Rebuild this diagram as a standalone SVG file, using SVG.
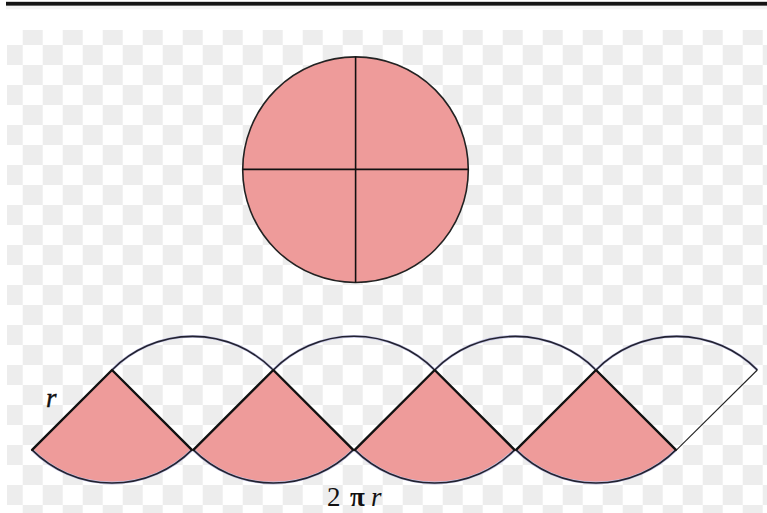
<svg xmlns="http://www.w3.org/2000/svg" width="767" height="513" viewBox="0 0 767 513">
  <defs>
    <pattern id="checker" patternUnits="userSpaceOnUse" x="2.7" y="25" width="40" height="40">
      <rect x="0" y="0" width="40" height="40" fill="#ffffff"/>
      <rect x="20" y="0" width="20" height="20" fill="#ededed"/>
      <rect x="0" y="20" width="20" height="20" fill="#ededed"/>
    </pattern>
  </defs>
  <style>
    .fill { fill: #ee9b9a; }
    .side { fill: none; stroke: #111; stroke-width: 2.4; stroke-linejoin: round; stroke-linecap: round; }
    .arc { fill: none; stroke: #222230; stroke-width: 1.6; }
    .halo { fill: none; stroke: #c4c4e4; stroke-width: 2.8; }
    .thin { fill: none; stroke: #222; stroke-width: 1.1; }
    .lbl { font-family: "Liberation Serif", "Times New Roman", serif; fill: #111; }
  </style>

  <!-- background -->
  <rect x="0" y="0" width="767" height="513" fill="#ffffff"/>
  <rect x="6" y="1.8" width="761" height="4" fill="#141414"/>
  <rect x="6" y="5.8" width="761" height="3.5" fill="#f4f4f4"/>
  <rect x="7" y="30" width="760" height="483" fill="url(#checker)"/>

  <!-- circle divided into quarters -->
  <g id="circle">
    <circle cx="355.5" cy="169.7" r="112.8" class="fill" stroke="#222" stroke-width="1.6"/>
    <line x1="355.6" y1="56.9" x2="355.6" y2="282.5" stroke="#111" stroke-width="1.6"/>
    <line x1="242.7" y1="169.4" x2="468.3" y2="169.4" stroke="#111" stroke-width="1.6"/>
  </g>

  <!-- white (upper) sectors: arcs only -->
  <g id="upper-sectors">
    <g id="upper-1">
      <path class="halo" d="M112,370 A113.5,113.5 0 0 1 273.3,370"/>
      <path class="arc" d="M112,370 A113.5,113.5 0 0 1 273.3,370"/>
    </g>
    <g id="upper-2">
      <path class="halo" d="M273.3,370 A113.5,113.5 0 0 1 434.7,370"/>
      <path class="arc" d="M273.3,370 A113.5,113.5 0 0 1 434.7,370"/>
    </g>
    <g id="upper-3">
      <path class="halo" d="M434.7,370 A113.5,113.5 0 0 1 596,370"/>
      <path class="arc" d="M434.7,370 A113.5,113.5 0 0 1 596,370"/>
    </g>
    <g id="upper-4">
      <path class="halo" d="M596,370 A113.5,113.5 0 0 1 757.3,370"/>
      <path class="arc" d="M596,370 A113.5,113.5 0 0 1 757.3,370"/>
      <line class="thin" x1="757.3" y1="370" x2="676.6" y2="449.9"/>
    </g>
  </g>

  <!-- pink (lower) sectors -->
  <g id="lower-sectors">
    <g id="sector-1">
      <path class="fill" d="M112,370 L32.1,449.9 A113,113 0 0 0 191.9,449.9 Z"/>
      <path class="halo" d="M32.1,449.9 A113,113 0 0 0 191.9,449.9"/>
      <path class="arc" d="M32.1,449.9 A113,113 0 0 0 191.9,449.9"/>
      <path class="side" d="M32.1,449.9 L112,370 L191.9,449.9"/>
    </g>
    <g id="sector-2">
      <path class="fill" d="M273.3,370 L193.4,449.9 A113,113 0 0 0 353.2,449.9 Z"/>
      <path class="halo" d="M193.4,449.9 A113,113 0 0 0 353.2,449.9"/>
      <path class="arc" d="M193.4,449.9 A113,113 0 0 0 353.2,449.9"/>
      <path class="side" d="M193.4,449.9 L273.3,370 L353.2,449.9"/>
    </g>
    <g id="sector-3">
      <path class="fill" d="M434.7,370 L354.8,449.9 A113,113 0 0 0 514.6,449.9 Z"/>
      <path class="halo" d="M354.8,449.9 A113,113 0 0 0 514.6,449.9"/>
      <path class="arc" d="M354.8,449.9 A113,113 0 0 0 514.6,449.9"/>
      <path class="side" d="M354.8,449.9 L434.7,370 L514.6,449.9"/>
    </g>
    <g id="sector-4">
      <path class="fill" d="M596,370 L516.1,449.9 A113,113 0 0 0 675.9,449.9 Z"/>
      <path class="halo" d="M516.1,449.9 A113,113 0 0 0 675.9,449.9"/>
      <path class="arc" d="M516.1,449.9 A113,113 0 0 0 675.9,449.9"/>
      <path class="side" d="M516.1,449.9 L596,370 L675.9,449.9"/>
    </g>
  </g>

  <!-- labels -->
  <g id="labels">
    <text class="lbl" x="46" y="407" font-size="27" font-style="italic" stroke="#111" stroke-width="0.4">r</text>
    <text class="lbl" font-size="27" y="506"><tspan x="327">2</tspan><tspan x="350" font-weight="bold">π</tspan><tspan x="371" font-style="italic">r</tspan></text>
  </g>
</svg>
